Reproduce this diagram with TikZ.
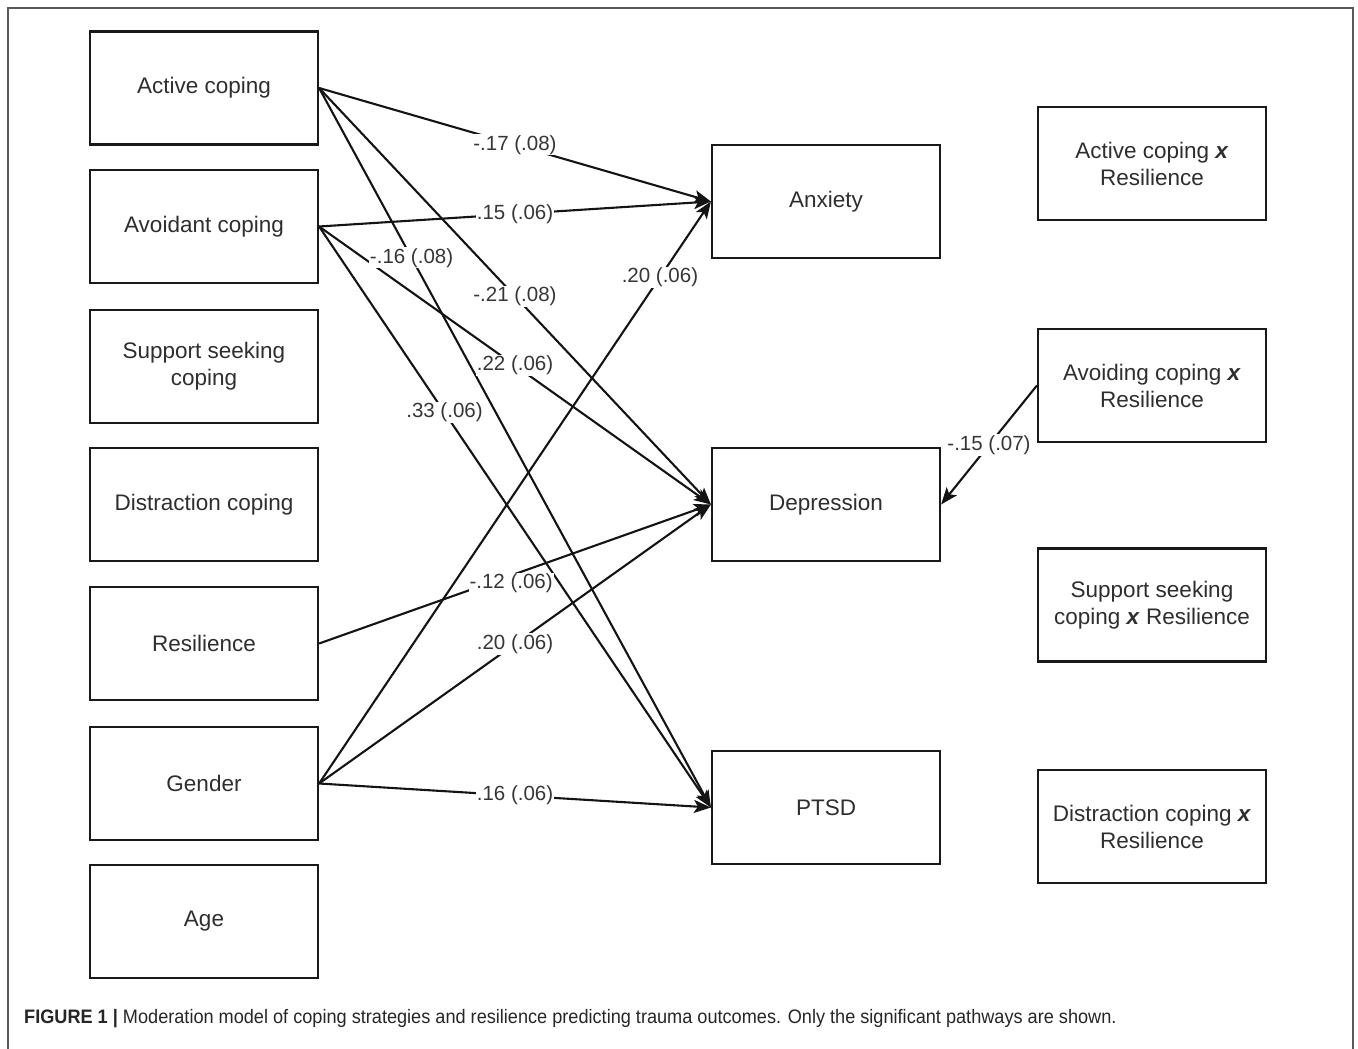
\documentclass[tikz,border=0pt]{standalone}
\usepackage{fontspec}
\setmainfont{Liberation Sans}
\newfontfamily\capfont[FakeStretch=0.93]{Liberation Sans}
\usetikzlibrary{arrows.meta}
\definecolor{txt}{HTML}{2E2E2E}
\definecolor{lbltxt}{HTML}{363636}
\definecolor{framec}{HTML}{5A5A5A}
\begin{document}
\begin{tikzpicture}[x=1pt,y=-1pt,
  box/.style={draw=black!90, line width=2.2pt, minimum width=228pt, minimum height=113pt,
    align=center, inner sep=0pt, text=txt, font=\fontsize{22.5}{27}\selectfont},
  conn/.style={line width=2.1pt, draw=black!92, -{Stealth[length=17pt,width=13pt,inset=4pt]}},
  lbl/.style={fill=white, inner sep=1pt, text=lbltxt, font=\fontsize{20.5}{22}\selectfont},
  framestyle/.style={draw=framec, line width=1.4pt}]
\useasboundingbox (0,0) rectangle (1358,1049);
\draw[framestyle] (8,1049) -- (8,8) -- (1353,8) -- (1353,1049);

% left column
\node[box] (act) at (204,88) {Active coping};
\node[box] (avo) at (204,226.5) {Avoidant coping};
\node[box] (sup) at (204,366.5) {Support seeking\\coping};
\node[box] (dis) at (204,504.5) {Distraction coping};
\node[box] (res) at (204,643.5) {Resilience};
\node[box] (gen) at (204,783.5) {Gender};
\node[box] (age) at (204,921.5) {Age};

% middle column
\node[box] (anx) at (826,201.5) {Anxiety};
\node[box] (dep) at (826,504.5) {Depression};
\node[box] (pts) at (826,807.5) {PTSD};

% right column
\node[box] (actres) at (1152,163.5) {Active coping \textbf{\textit{x}}\\Resilience};
\node[box] (avores) at (1152,385.5) {Avoiding coping \textbf{\textit{x}}\\Resilience};
\node[box] (supres) at (1152,605) {Support seeking\\coping \textbf{\textit{x}} Resilience};
\node[box] (disres) at (1152,826.5) {Distraction coping \textbf{\textit{x}}\\Resilience};

% connectors
\draw[conn] (act.east) -- (anx.west);
\draw[conn] (act.east) -- (dep.west);
\draw[conn] (act.east) -- (pts.west);
\draw[conn] (avo.east) -- (anx.west);
\draw[conn] (avo.east) -- (dep.west);
\draw[conn] (avo.east) -- (pts.west);
\draw[conn] (res.east) -- (dep.west);
\draw[conn] (gen.east) -- (anx.west);
\draw[conn] (gen.east) -- (dep.west);
\draw[conn] (gen.east) -- (pts.west);
\draw[conn] (avores.west) -- (dep.east);

% labels
\path (act.east) -- node[lbl,pos=0.5] {-.17 (.08)} (anx.west);
\path (act.east) -- node[lbl,pos=0.5] {-.21 (.08)} (dep.west);
\path (act.east) -- node[lbl,pos=0.236] {-.16 (.08)} (pts.west);
\path (avo.east) -- node[lbl,pos=0.5] {.15 (.06)} (anx.west);
\path (avo.east) -- node[lbl,pos=0.5] {.22 (.06)} (dep.west);
\path (avo.east) -- node[lbl,pos=0.32] {.33 (.06)} (pts.west);
\path (res.east) -- node[lbl,pos=0.49,yshift=-8pt] {-.12 (.06)} (dep.west);
\path (gen.east) -- node[lbl,pos=0.87] {.20 (.06)} (anx.west);
\path (gen.east) -- node[lbl,pos=0.5] {.20 (.06)} (dep.west);
\path (gen.east) -- node[lbl,pos=0.5] {.16 (.06)} (pts.west);
\path (avores.west) -- node[lbl,pos=0.5] {-.15 (.07)} (dep.east);

% caption
\node[anchor=west, inner sep=0pt, text=black!85, font=\capfont\fontsize{19.5}{22}\selectfont] (cap) at (24,1019)
  {\textbf{FIGURE 1 |} Moderation model of coping strategies and resilience predicting trauma outcomes. Only the significant pathways are shown.};
\end{tikzpicture}
\end{document}
